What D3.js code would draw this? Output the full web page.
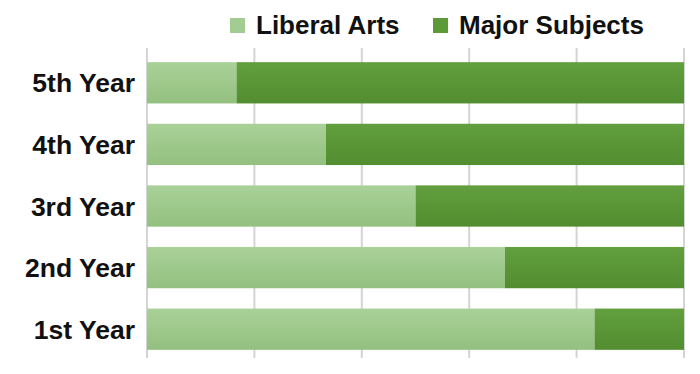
<!DOCTYPE html>
<html><head><meta charset="utf-8">
<script src="https://cdn.jsdelivr.net/npm/d3@7"></script>
<style>body{margin:0;background:#fff}svg{display:block}</style>
</head><body><svg id="c" width="700" height="374"></svg>
<script>
const categories = ["5th Year","4th Year","3rd Year","2nd Year","1st Year"];
const liberalArts = [1,2,3,4,5];
const majorSubjects = [5,4,3,2,1];
const seriesNames = ["Liberal Arts","Major Subjects"];
const tickValues = [0,0.2,0.4,0.6,0.8,1];

const svg = d3.select("#c");
const defs = svg.append("defs");
function grad(id, top, bot){
  const g = defs.append("linearGradient").attr("id",id).attr("x1",0).attr("y1",0).attr("x2",0).attr("y2",1);
  g.append("stop").attr("offset","0%").attr("stop-color",top);
  g.append("stop").attr("offset","100%").attr("stop-color",bot);
}
grad("gLA","#a9d199","#93c07f");
grad("gMS","#629f3d","#528d30");
const fills = ["url(#gLA)","url(#gMS)"];
const legendFills = ["#a3cc92","#5c9a38"];

const x = d3.scaleLinear().domain([0,1]).range([147,684]);
const y = d3.scaleBand().domain(categories).range([52,360]).paddingInner(0.33).paddingOuter(0.165);

// grid
svg.append("g").selectAll("line").data(tickValues).join("line")
  .attr("x1",d=>x(d)).attr("x2",d=>x(d)).attr("y1",48).attr("y2",358)
  .attr("stroke","#d4d4d4").attr("stroke-width",2);

const rows = categories.map((c,i)=>{
  const t = liberalArts[i]+majorSubjects[i];
  return {c, a: liberalArts[i]/t, b: majorSubjects[i]/t};
});
const g = svg.append("g");
rows.forEach(r=>{
  g.append("rect").attr("x",x(0)).attr("y",y(r.c)).attr("width",x(r.a)-x(0)).attr("height",y.bandwidth()).attr("fill",fills[0]);
  g.append("rect").attr("x",x(r.a)).attr("y",y(r.c)).attr("width",x(1)-x(r.a)).attr("height",y.bandwidth()).attr("fill",fills[1]);
});

// y labels
svg.append("g").selectAll("text").data(categories).join("text")
  .attr("x",135).attr("y",d=>y(d)+y.bandwidth()/2).attr("dy","0.36em")
  .attr("text-anchor","end").attr("font-family","Liberation Sans, Arial, sans-serif")
  .attr("font-weight","bold").attr("font-size",26.5).attr("fill","#111")
  .text(d=>d);

// legend
const legX = [230,433];
const leg = svg.append("g");
seriesNames.forEach((n,i)=>{
  leg.append("rect").attr("x",legX[i]).attr("y",18).attr("width",15).attr("height",15).attr("fill",legendFills[i]);
  leg.append("text").attr("x",legX[i]+26).attr("y",34).attr("font-family","Liberation Sans, Arial, sans-serif")
    .attr("font-weight","bold").attr("font-size",26).attr("fill","#111").text(n);
});
</script></body></html>
